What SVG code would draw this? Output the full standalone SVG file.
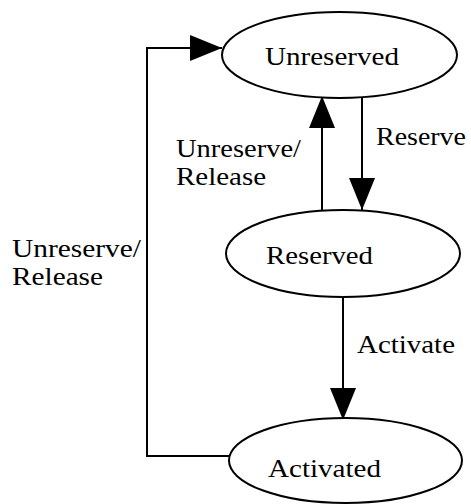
<svg xmlns="http://www.w3.org/2000/svg" width="471" height="504" viewBox="0 0 471 504">
<style>
.n{fill:#fff;stroke:#000;stroke-width:2}
.t{font-family:"Liberation Serif","Times New Roman",serif;font-size:26px;fill:#000}
.c{fill:none;stroke:#000;stroke-width:2}
</style>
<defs>
<marker id="ah" markerUnits="userSpaceOnUse" markerWidth="34" markerHeight="28" refX="32" refY="13" orient="auto">
<path d="M0,0 L32,13 L0,26 Z" fill="#000"/>
</marker>
</defs>
<rect width="471" height="504" fill="#fff"/>
<g id="connectors">
<path class="c" d="M231,456 H147 V48 H222" marker-end="url(#ah)"/>
<path class="c" d="M322,210 V96" marker-end="url(#ah)"/>
<path class="c" d="M362,98 V210" marker-end="url(#ah)"/>
<path class="c" d="M343,298 V420" marker-end="url(#ah)"/>
<text class="t" x="376" y="145" textLength="90" lengthAdjust="spacingAndGlyphs">Reserve</text>
<text class="t" x="176" y="157" textLength="125" lengthAdjust="spacingAndGlyphs">Unreserve/</text>
<text class="t" x="176" y="185" textLength="90" lengthAdjust="spacingAndGlyphs">Release</text>
<text class="t" x="12" y="257" textLength="129" lengthAdjust="spacingAndGlyphs">Unreserve/</text>
<text class="t" x="12" y="285" textLength="91" lengthAdjust="spacingAndGlyphs">Release</text>
<text class="t" x="357" y="353" textLength="98" lengthAdjust="spacingAndGlyphs">Activate</text>
</g>
<g id="unreserved">
<ellipse class="n" cx="339.5" cy="55" rx="117.5" ry="43"/>
<text class="t" x="265" y="65" textLength="134" lengthAdjust="spacingAndGlyphs">Unreserved</text>
</g>
<g id="reserved">
<ellipse class="n" cx="343" cy="253.5" rx="117" ry="43.5"/>
<text class="t" x="266" y="264" textLength="107" lengthAdjust="spacingAndGlyphs">Reserved</text>
</g>
<g id="activated">
<ellipse class="n" cx="345.5" cy="460.5" rx="116.5" ry="42.5"/>
<text class="t" x="268" y="477" textLength="113" lengthAdjust="spacingAndGlyphs">Activated</text>
</g>
</svg>
